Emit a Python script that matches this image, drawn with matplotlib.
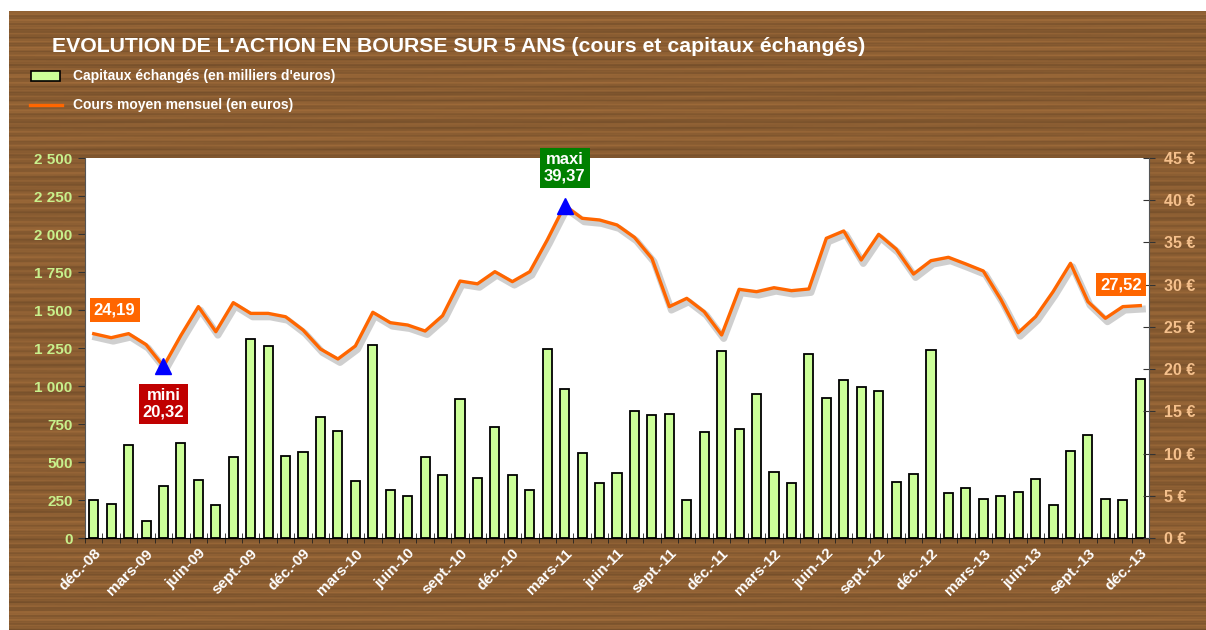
"""
Evolution de l'action en bourse sur 5 ans: capitaux echanges (barres)
et cours moyen mensuel (courbe), sur fond facon bois.
"""

import numpy as np
import matplotlib

matplotlib.use("Agg")
import matplotlib.pyplot as plt
import matplotlib.patheffects as pe
from matplotlib.patches import Rectangle
from matplotlib.lines import Line2D


# Capitaux echanges par mois, en milliers d'euros (dec-08 -> dec-13)
CAPITAUX = [
    250, 222, 612, 114, 344, 627, 382, 215, 535, 1311,
    1263, 539, 568, 794, 704, 375, 1270, 318, 276, 533,
    414, 914, 392, 732, 412, 314, 1241, 982, 557, 360,
    425, 833, 807, 813, 252, 695, 1232, 715, 947, 432,
    364, 1208, 923, 1039, 991, 965, 366, 423, 1237, 294,
    329, 257, 274, 305, 390, 215, 570, 675, 259, 248,
    1044,
]

# Cours moyen mensuel, en euros
COURS = [
    24.19, 23.72, 24.20, 22.90, 20.32, 24.00, 27.40, 24.43, 27.87, 26.60,
    26.60, 26.20, 24.63, 22.38, 21.20, 22.74, 26.73, 25.50, 25.22, 24.51,
    26.33, 30.43, 30.10, 31.54, 30.36, 31.54, 35.29, 39.37, 37.86, 37.66,
    37.07, 35.60, 33.12, 27.40, 28.38, 26.80, 24.04, 29.45, 29.17, 29.64,
    29.29, 29.49, 35.49, 36.36, 32.92, 35.96, 34.22, 31.26, 32.84, 33.24,
    32.45, 31.62, 28.27, 24.31, 26.21, 29.17, 32.53, 27.99, 26.02, 27.40,
    27.52,
]

# Un libelle tous les trois mois
TICK_LABELS = [
    "déc.-08", "mars-09", "juin-09", "sept.-09", "déc.-09", "mars-10", "juin-10",
    "sept.-10", "déc.-10", "mars-11", "juin-11", "sept.-11", "déc.-11", "mars-12",
    "juin-12", "sept.-12", "déc.-12", "mars-13", "juin-13", "sept.-13", "déc.-13",
]

LEFT_TICKS = [0, 250, 500, 750, 1000, 1250, 1500, 1750, 2000, 2250, 2500]
RIGHT_TICKS = [0, 5, 10, 15, 20, 25, 30, 35, 40, 45]

TITLE = "EVOLUTION DE L'ACTION EN BOURSE SUR 5 ANS (cours et capitaux échangés)"
LEGEND_BARS = "Capitaux échangés (en milliers d'euros)"
LEGEND_LINE = "Cours moyen mensuel (en euros)"

BAR_COLOR = "#CCFF99"
LINE_COLOR = "#FF6600"
LEFT_LABEL_COLOR = "#C8F08C"
RIGHT_LABEL_COLOR = "#F5C08C"
FONT = "Liberation Sans"

W, H = 1206, 630


def fmt_thousands(v):
    return f"{v:,.0f}".replace(",", " ")


def fmt_fr(v):
    return f"{v:.2f}".replace(".", ",")


def draw_wood(fig):
    """Fond facon bois: stries horizontales deterministes."""
    bg = fig.add_axes([9 / W, 0, 1 - 9 / W, 1 - 11 / H], zorder=-10)
    rows = np.arange(620)[:, None]
    cols = np.arange(600)[None, :]
    shade = (
        0.55 * np.sin(rows * 0.9) + 0.35 * np.sin(rows * 2.3 + 1.0)
        + 0.25 * np.sin(rows * 0.21) + 0.15 * np.sin(cols * 0.05 + rows * 0.7)
    )
    shade = shade / np.abs(shade).max()
    base = np.array([138, 93, 50]) / 255.0
    img = np.clip(base[None, None, :] * (1 + 0.18 * shade[..., None]), 0, 1)
    bg.imshow(img, aspect="auto", extent=[0, 1, 0, 1], interpolation="bilinear")
    bg.set_axis_off()


def main():
    plt.rcParams["font.family"] = [FONT, "DejaVu Sans"]
    plt.rcParams["font.weight"] = "bold"

    fig = plt.figure(figsize=(W / 100, H / 100), dpi=100, facecolor="white")
    draw_wood(fig)

    x = np.arange(len(CAPITAUX))
    ax = fig.add_axes([85 / W, 1 - 538 / H, (1149 - 85) / W, (538 - 158) / H])
    ax.set_facecolor("white")
    ax.bar(x, CAPITAUX, width=0.52, color=BAR_COLOR, edgecolor="black", linewidth=1.3, zorder=2)
    ax.set_xlim(-0.5, len(x) - 0.5)
    ax.set_ylim(0, 2500)
    ax.set_yticks(LEFT_TICKS)
    ax.set_yticklabels([fmt_thousands(v) for v in LEFT_TICKS], color=LEFT_LABEL_COLOR,
                       fontsize=11, fontweight="bold")
    ax.tick_params(axis="y", direction="out", length=5, color="#333333", pad=4)

    ax.set_xticks(x[::3])
    ax.set_xticklabels(TICK_LABELS, rotation=45, ha="right", rotation_mode="anchor",
                       color="white", fontsize=11, fontweight="bold")
    ax.tick_params(axis="x", length=0, pad=6)
    ax.set_xticks(np.arange(-0.5, len(x), 1.0), minor=True)
    ax.tick_params(axis="x", which="minor", direction="inout", length=7, color="#222222")
    ax.spines["top"].set_visible(False)
    ax.spines["left"].set_color("#555555")
    ax.spines["bottom"].set_color("black")
    ax.spines["right"].set_visible(False)

    ax2 = ax.twinx()
    ax2.set_ylim(0, 45)
    ax2.plot(
        x, COURS, color=LINE_COLOR, linewidth=2.4, solid_joinstyle="round", zorder=3,
        path_effects=[pe.SimpleLineShadow(offset=(1.5, -2.5), shadow_color="#888888",
                                          alpha=0.4, linewidth=5), pe.Normal()],
    )
    ax2.set_yticks(RIGHT_TICKS)
    ax2.set_yticklabels([f"{v} €" for v in RIGHT_TICKS], color=RIGHT_LABEL_COLOR,
                        fontsize=11.5, fontweight="bold")
    ax2.tick_params(axis="y", direction="inout", length=9, color="#333333", pad=6)
    for side in ["top", "left", "bottom"]:
        ax2.spines[side].set_visible(False)
    ax2.spines["right"].set_color("#555555")

    # mini / maxi
    i_min = int(np.argmin(COURS))
    i_max = int(np.argmax(COURS))
    ax2.plot([i_min, i_max], [COURS[i_min], COURS[i_max]], linestyle="none",
             marker="^", markersize=11, color="#0000FF", zorder=4)

    box = dict(boxstyle="square,pad=0.25", linewidth=0)
    ax2.annotate(f"mini\n{fmt_fr(COURS[i_min])}", (i_min, COURS[i_min]),
                 xytext=(0, -27), textcoords="offset points", ha="center", va="center",
                 color="white", fontsize=12, fontweight="bold", linespacing=1.1,
                 bbox=dict(box, facecolor="#C00000"), zorder=5)
    ax2.annotate(f"maxi\n{fmt_fr(COURS[i_max])}", (i_max, COURS[i_max]),
                 xytext=(0, 27), textcoords="offset points", ha="center", va="center",
                 color="white", fontsize=12, fontweight="bold", linespacing=1.1,
                 bbox=dict(box, facecolor="#008000"), zorder=5)
    ax2.annotate(fmt_fr(COURS[0]), (0, COURS[0]), xytext=(15, 17),
                 textcoords="offset points", ha="center", va="center",
                 color="white", fontsize=12, fontweight="bold",
                 bbox=dict(box, facecolor=LINE_COLOR), zorder=5)
    ax2.annotate(fmt_fr(COURS[-1]), (len(x) - 1, COURS[-1]), xytext=(-14, 15),
                 textcoords="offset points", ha="center", va="center",
                 color="white", fontsize=12, fontweight="bold",
                 bbox=dict(box, facecolor=LINE_COLOR), zorder=5)

    # titre et legende
    fig.text(52 / W, 1 - 46 / H, TITLE, color="white", fontsize=15.3, fontweight="bold",
             ha="left", va="center")
    fig.patches.append(Rectangle((31 / W, 1 - 81 / H), 29 / W, 10 / H, transform=fig.transFigure,
                                 facecolor=BAR_COLOR, edgecolor="black", linewidth=1.2))
    fig.text(73 / W, 1 - 76 / H, LEGEND_BARS, color="white", fontsize=10,
             fontweight="bold", ha="left", va="center")
    fig.lines.append(Line2D([30 / W, 62 / W], [1 - 105 / H, 1 - 105 / H],
                            transform=fig.transFigure, color=LINE_COLOR, linewidth=2.4))
    fig.text(73 / W, 1 - 105 / H, LEGEND_LINE, color="white", fontsize=10,
             fontweight="bold", ha="left", va="center")

    fig.savefig("out.png", dpi=100, facecolor="white")


if __name__ == "__main__":
    main()
